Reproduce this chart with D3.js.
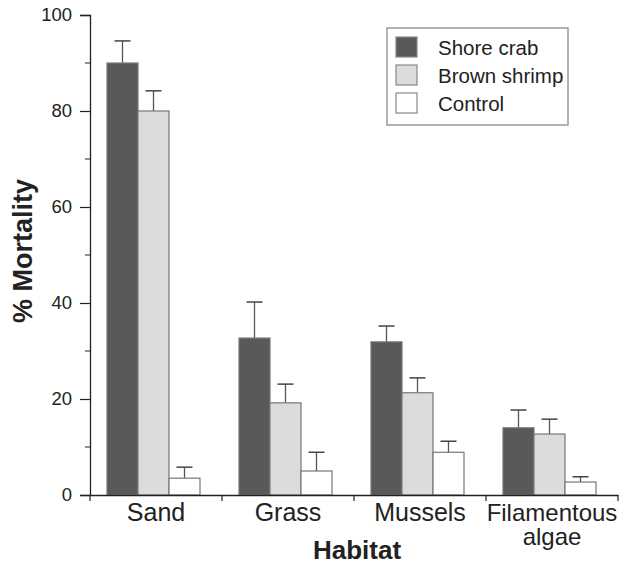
<!DOCTYPE html>
<html>
<head>
<meta charset="utf-8">
<script src="https://cdn.jsdelivr.net/npm/d3@7"></script>
<style>
  body { margin: 0; background: #fff; }
  svg text { font-family: "Liberation Sans", Arial, sans-serif; fill: #222; }
</style>
</head>
<body>
<div id="chart"></div>
<script>
var habitats = ["Sand", "Grass", "Mussels", "Filamentous algae"];
var series = ["Shore crab", "Brown shrimp", "Control"];
var means = [
    [90.0, 80.0, 3.5],
    [32.7, 19.2, 5.0],
    [31.9, 21.3, 8.9],
    [14.0, 12.7, 2.7]
];
var errTops = [
    [94.6, 84.2, 5.8],
    [40.2, 23.1, 8.9],
    [35.2, 24.4, 11.2],
    [17.7, 15.8, 3.8]
];
var majorTicks = [0, 20, 40, 60, 80, 100];
var minorTicks = [10, 30, 50, 70, 90];
var fills = ["#595959", "#dcdcdc", "#ffffff"];

var svg = d3.select("#chart").append("svg").attr("width", 621).attr("height", 564);

var y = d3.scaleLinear().domain([0, 100]).range([495, 15]);
var x0 = d3.scaleBand().domain(habitats).range([90, 618]);
// bars sit a little left of the middle of each band
var x1 = d3.scaleBand().domain(series).range([17, 110]);

// y axis
var yAxis = d3.axisLeft(y).tickValues(majorTicks).tickSize(10).tickPadding(8);
var gy = svg.append("g").attr("transform", "translate(90,0)").call(yAxis);
gy.select(".domain").attr("stroke", "#222").attr("stroke-width", 1.3);
gy.selectAll(".tick line").attr("stroke", "#222").attr("stroke-width", 1.2);
gy.selectAll(".tick text").style("font-size", "18.5px").attr("fill", "#222");
svg.append("g").selectAll("line").data(minorTicks).enter().append("line")
    .attr("x1", 85).attr("x2", 90)
    .attr("y1", function(d) { return y(d); }).attr("y2", function(d) { return y(d); })
    .attr("stroke", "#222").attr("stroke-width", 1);

// bars
var groups = svg.append("g").selectAll("g").data(habitats).enter().append("g")
    .attr("transform", function(d) { return "translate(" + x0(d) + ",0)"; });

groups.selectAll("g.err").data(function(d, i) {
        return series.map(function(s, j) { return {s: s, v: means[i][j], e: errTops[i][j]}; });
    }).enter().append("g").attr("class", "err").each(function(d) {
        var g = d3.select(this);
        var cx = x1(d.s) + x1.bandwidth() / 2;
        g.append("line").attr("x1", cx).attr("x2", cx).attr("y1", y(d.v)).attr("y2", y(d.e))
            .attr("stroke", "#555").attr("stroke-width", 1.3);
        g.append("line").attr("x1", cx - 8).attr("x2", cx + 8).attr("y1", y(d.e)).attr("y2", y(d.e))
            .attr("stroke", "#444").attr("stroke-width", 1.5);
    });

groups.selectAll("rect").data(function(d, i) {
        return series.map(function(s, j) { return {s: s, v: means[i][j], c: fills[j]}; });
    }).enter().append("rect")
    .attr("x", function(d) { return x1(d.s); })
    .attr("width", x1.bandwidth())
    .attr("y", function(d) { return y(d.v); })
    .attr("height", function(d) { return y(0) - y(d.v); })
    .attr("fill", function(d) { return d.c; })
    .attr("stroke", "#777").attr("stroke-width", 1.2);

// x axis
var xAxis = d3.axisBottom(x0).tickSize(0).tickFormat("");
var gx = svg.append("g").attr("transform", "translate(0,495)").call(xAxis);
gx.select(".domain").attr("stroke", "#222").attr("stroke-width", 1.5);
var bounds = habitats.map(function(h) { return x0(h); }).concat([x0.range()[1]]);
svg.append("g").selectAll("line").data(bounds).enter().append("line")
    .attr("x1", function(d) { return d; }).attr("x2", function(d) { return d; })
    .attr("y1", 495).attr("y2", 501).attr("stroke", "#222").attr("stroke-width", 1.2);

// category labels, the long one split over two lines
var labelRows = [];
habitats.forEach(function(h) {
    var parts = h === "Filamentous algae" ? ["Filamentous", "algae"] : [h];
    parts.forEach(function(p, i) { labelRows.push({h: h, text: p, row: i, n: parts.length}); });
});
svg.append("g").selectAll("text").data(labelRows).enter().append("text")
    .attr("text-anchor", "middle")
    .style("font-size", function(d) { return d.n > 1 ? "24px" : "25px"; })
    .attr("x", function(d) { return x0(d.h) + x0.bandwidth() / 2; })
    .attr("y", function(d) { return 521 + d.row * 24; })
    .text(function(d) { return d.text; });

// axis titles
svg.append("text").attr("x", 357).attr("y", 559).attr("text-anchor", "middle")
    .style("font-size", "26px").style("font-weight", "bold").text("Habitat");
svg.append("text").attr("transform", "translate(32,251) rotate(-90)").attr("text-anchor", "middle")
    .style("font-size", "27px").style("font-weight", "bold").text("% Mortality");

// legend
var legend = svg.append("g").attr("transform", "translate(387,28)");
legend.append("rect").attr("width", 181).attr("height", 97)
    .attr("fill", "#fff").attr("stroke", "#999").attr("stroke-width", 1.5);
var items = legend.selectAll("g").data(series).enter().append("g")
    .attr("transform", function(d, i) { return "translate(9," + (9 + i * 28) + ")"; });
items.append("rect").attr("width", 21).attr("height", 20)
    .attr("fill", function(d, i) { return fills[i]; })
    .attr("stroke", "#888").attr("stroke-width", 1.2);
items.append("text").attr("x", 42).attr("y", 18).style("font-size", "20.5px").text(function(d) { return d; });
</script>
</body>
</html>
